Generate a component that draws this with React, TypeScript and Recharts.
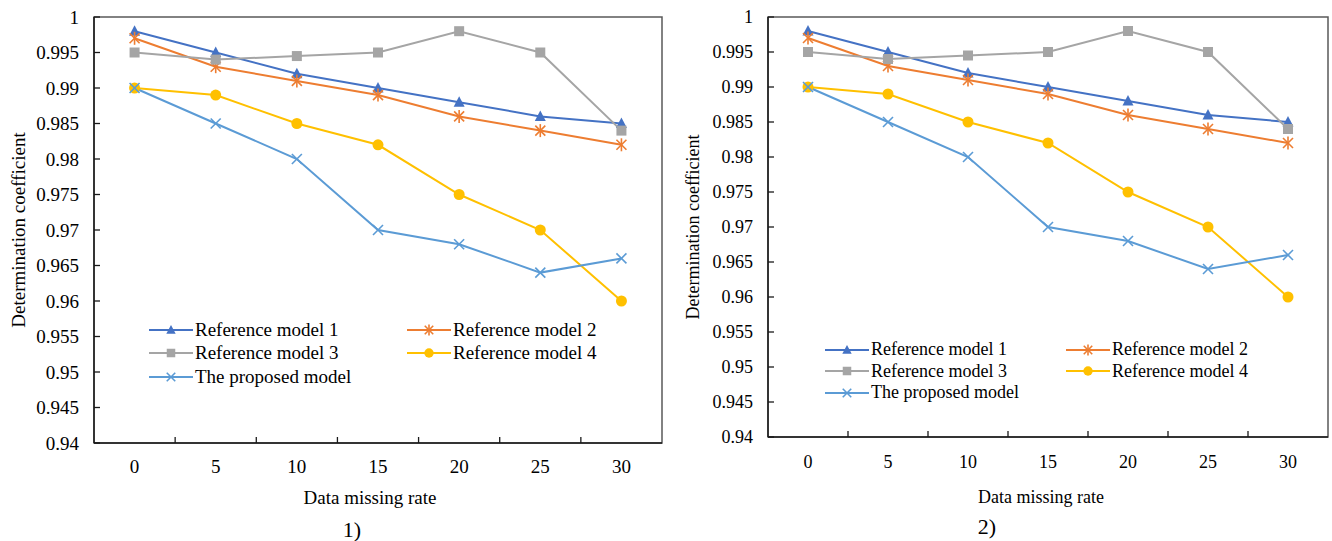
import React from "react";
import {
  LineChart,
  Line,
  XAxis,
  YAxis,
  Legend,
  Label,
  ReferenceArea,
} from "recharts";

const rates = [0, 5, 10, 15, 20, 25, 30];
const model1 = [0.998, 0.995, 0.992, 0.99, 0.988, 0.986, 0.985];
const model2 = [0.997, 0.993, 0.991, 0.989, 0.986, 0.984, 0.982];
const model3 = [0.995, 0.994, 0.9945, 0.995, 0.998, 0.995, 0.984];
const model4 = [0.99, 0.989, 0.985, 0.982, 0.975, 0.97, 0.96];
const proposed = [0.99, 0.985, 0.98, 0.97, 0.968, 0.964, 0.966];

const yTicks = [0.94, 0.945, 0.95, 0.955, 0.96, 0.965, 0.97, 0.975, 0.98, 0.985, 0.99, 0.995, 1];
const xLabelTicks = [0, 5, 10, 15, 20, 25, 30];
const xMarkTicks = [2.5, 7.5, 12.5, 17.5, 22.5, 27.5];

type Shape = "triangle" | "star" | "square" | "circle" | "x";

const series: { key: string; name: string; color: string; shape: Shape }[] = [
  { key: "m1", name: "Reference model 1", color: "#4472C4", shape: "triangle" },
  { key: "m2", name: "Reference model 2", color: "#ED7D31", shape: "star" },
  { key: "m3", name: "Reference model 3", color: "#A5A5A5", shape: "square" },
  { key: "m4", name: "Reference model 4", color: "#FFC000", shape: "circle" },
  { key: "mp", name: "The proposed model", color: "#5B9BD5", shape: "x" },
];

const rows = rates.map((r, i) => ({
  rate: r,
  m1: model1[i],
  m2: model2[i],
  m3: model3[i],
  m4: model4[i],
  mp: proposed[i],
}));

const FONT = '"Liberation Serif", "Times New Roman", serif';
const AXIS = "#1a1a1a";
const BORDER = "#595959";

function Marker({ shape, x, y, color, s = 1 }: { shape: Shape; x: number; y: number; color: string; s?: number }) {
  switch (shape) {
    case "triangle":
      return (
        <polygon
          points={`${x},${y - 6 * s} ${x - 5.5 * s},${y + 4.5 * s} ${x + 5.5 * s},${y + 4.5 * s}`}
          fill={color}
        />
      );
    case "square":
      return <rect x={x - 5 * s} y={y - 5 * s} width={10 * s} height={10 * s} fill={color} />;
    case "circle":
      return <circle cx={x} cy={y} r={5.5 * s} fill={color} />;
    case "x":
      return (
        <g stroke={color} strokeWidth={1.6}>
          <line x1={x - 5 * s} y1={y - 5 * s} x2={x + 5 * s} y2={y + 5 * s} />
          <line x1={x - 5 * s} y1={y + 5 * s} x2={x + 5 * s} y2={y - 5 * s} />
        </g>
      );
    case "star":
      return (
        <g stroke={color} strokeWidth={1.6}>
          <line x1={x - 5 * s} y1={y - 5 * s} x2={x + 5 * s} y2={y + 5 * s} />
          <line x1={x - 5 * s} y1={y + 5 * s} x2={x + 5 * s} y2={y - 5 * s} />
          <line x1={x} y1={y - 6.5 * s} x2={x} y2={y + 6.5 * s} />
        </g>
      );
  }
  return null;
}

type PanelCfg = {
  width: number;
  height: number;
  plotLeft: number;
  plotTop: number;
  plotRight: number;
  plotBottom: number;
  fs: number;
  legendLeft: number;
  legendTop: number;
  legendColW: number;
  legendRowH: number;
  yTitleX: number;
  xTitleY: number;
  xTitleDx: number;
  xLabelGap: number;
};

const panel1: PanelCfg = {
  width: 666,
  height: 541,
  plotLeft: 94,
  plotTop: 17,
  plotRight: 662,
  plotBottom: 443,
  fs: 19,
  legendLeft: 149,
  legendTop: 318,
  legendColW: 258,
  legendRowH: 23.5,
  yTitleX: 18,
  xTitleY: 497,
  xTitleDx: -8,
  xLabelGap: 23,
};

const panel2: PanelCfg = {
  width: 666,
  height: 541,
  plotLeft: 102,
  plotTop: 17,
  plotRight: 662,
  plotBottom: 437,
  fs: 18,
  legendLeft: 159,
  legendTop: 339,
  legendColW: 241,
  legendRowH: 21.5,
  yTitleX: 27,
  xTitleY: 497,
  xTitleDx: -7,
  xLabelGap: 25,
};

function Panel({ cfg }: { cfg: PanelCfg }) {
  const xTick = (p: any) => {
    const v = p.payload.value;
    if (xMarkTicks.includes(v)) {
      return <line x1={p.x} x2={p.x} y1={p.y} y2={p.y - 6} stroke={AXIS} strokeWidth={1.3} />;
    }
    return (
      <text x={p.x} y={p.y + cfg.xLabelGap} textAnchor="middle" dominantBaseline="central" fontSize={cfg.fs} fontFamily={FONT} fill="#000">
        {v}
      </text>
    );
  };

  const yTick = (p: any) => (
    <g>
      <line x1={p.x} x2={p.x + 6} y1={p.y} y2={p.y} stroke={AXIS} strokeWidth={1.3} />
      <text x={p.x - 15} y={p.y} textAnchor="end" dominantBaseline="central" fontSize={cfg.fs} fontFamily={FONT} fill="#000">
        {p.payload.value}
      </text>
    </g>
  );

  const legendContent = () => (
    <div
      style={{
        display: "grid",
        gridTemplateColumns: `${cfg.legendColW}px ${cfg.legendColW}px`,
        fontFamily: FONT,
        fontSize: cfg.fs,
        color: "#000",
      }}
    >
      {series.map((s) => (
        <div key={s.key} style={{ display: "flex", alignItems: "center", height: cfg.legendRowH, whiteSpace: "nowrap" }}>
          <svg width={44} height={14} style={{ marginRight: 2 }}>
            <line x1={0} x2={44} y1={7} y2={7} stroke={s.color} strokeWidth={2} />
            <Marker shape={s.shape} x={22} y={7} color={s.color} s={0.85} />
          </svg>
          <span>{s.name}</span>
        </div>
      ))}
    </div>
  );

  const plotMidX = (cfg.plotLeft + cfg.plotRight) / 2;
  const plotMidY = (cfg.plotTop + cfg.plotBottom) / 2;

  return (
    <LineChart
      width={cfg.width}
      height={cfg.height}
      data={rows}
      margin={{ top: cfg.plotTop, left: 0, right: cfg.width - cfg.plotRight, bottom: 0 }}
    >
      <ReferenceArea
        x1={-2.5}
        x2={32.5}
        y1={0.94}
        y2={1}
        fill="none"
        stroke={BORDER}
        strokeWidth={1.5}
        ifOverflow="visible"
      />
      <XAxis
        dataKey="rate"
        type="number"
        domain={[-2.5, 32.5]}
        ticks={[...xLabelTicks, ...xMarkTicks].sort((a, b) => a - b)}
        interval={0}
        height={cfg.height - cfg.plotBottom}
        tickSize={0}
        tickMargin={0}
        tickLine={false}
        axisLine={{ stroke: AXIS, strokeWidth: 1.5 }}
        tick={xTick}
        allowDataOverflow
      >
        <Label
          content={() => (
            <text x={plotMidX + cfg.xTitleDx} y={cfg.xTitleY} textAnchor="middle" dominantBaseline="central" fontSize={cfg.fs} fontFamily={FONT} fill="#000">
              Data missing rate
            </text>
          )}
        />
      </XAxis>
      <YAxis
        type="number"
        domain={[0.94, 1]}
        ticks={yTicks}
        interval={0}
        width={cfg.plotLeft}
        tickSize={0}
        tickMargin={0}
        tickLine={false}
        axisLine={{ stroke: AXIS, strokeWidth: 1.5 }}
        tick={yTick}
        allowDataOverflow
      >
        <Label
          content={() => (
            <text
              x={cfg.yTitleX}
              y={plotMidY}
              transform={`rotate(-90 ${cfg.yTitleX} ${plotMidY})`}
              textAnchor="middle"
              dominantBaseline="central"
              fontSize={cfg.fs}
              fontFamily={FONT}
              fill="#000"
            >
              Determination coefficient
            </text>
          )}
        />
      </YAxis>
      <Legend
        verticalAlign="middle"
        align="center"
        layout="horizontal"
        content={legendContent}
        wrapperStyle={{ left: cfg.legendLeft, top: cfg.legendTop, width: cfg.legendColW * 2, height: cfg.legendRowH * 3 }}
      />
      {series.map((s) => (
        <Line
          key={s.key}
          dataKey={s.key}
          name={s.name}
          type="linear"
          stroke={s.color}
          strokeWidth={2}
          isAnimationActive={false}
          activeDot={false}
          dot={(p: any) => <Marker key={`${s.key}-${p.index}`} shape={s.shape} x={p.cx} y={p.cy} color={s.color} />}
        />
      ))}
    </LineChart>
  );
}

export default function App() {
  return (
    <div style={{ position: "absolute", left: 0, top: 0, width: 1332, height: 541, background: "#fff", fontFamily: FONT }}>
      <div style={{ position: "absolute", left: 0, top: 0 }}>
        <Panel cfg={panel1} />
      </div>
      <div style={{ position: "absolute", left: 666, top: 0 }}>
        <Panel cfg={panel2} />
      </div>
      <div style={{ position: "absolute", left: 332, top: 514, width: 40, textAlign: "center", fontSize: 22, lineHeight: "32px" }}>1)</div>
      <div style={{ position: "absolute", left: 967, top: 511, width: 40, textAlign: "center", fontSize: 22, lineHeight: "32px" }}>2)</div>
    </div>
  );
}
